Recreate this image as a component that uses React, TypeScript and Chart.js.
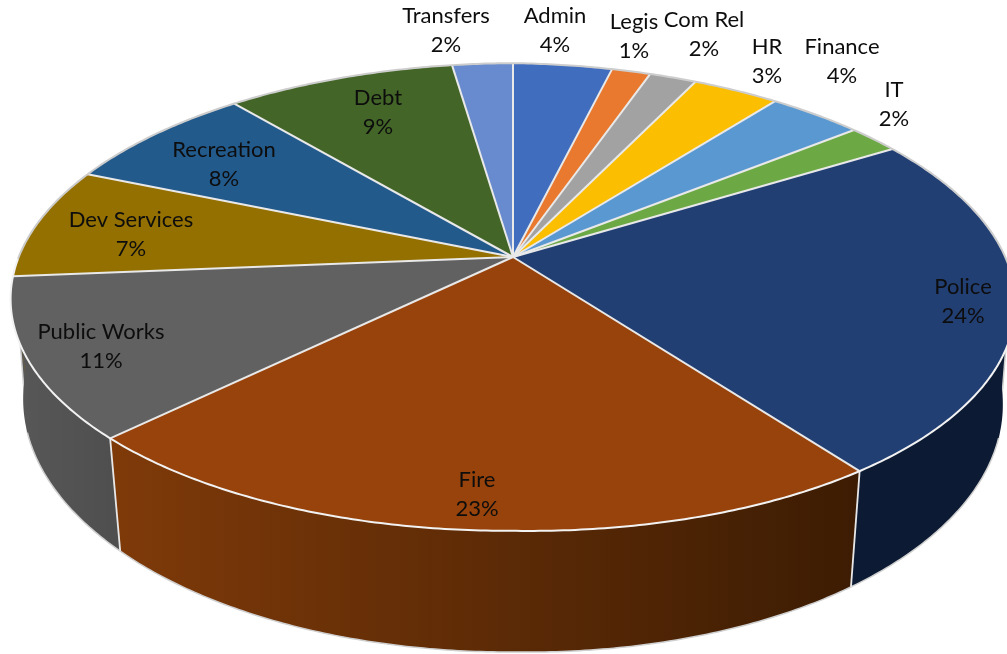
import React, { useEffect, useRef } from "react";
import { Chart, registerables } from "chart.js";

Chart.register(...registerables);

const categories = ["Admin", "Legis", "Com Rel", "HR", "Finance", "IT", "Police", "Fire", "Public Works", "Dev Services", "Recreation", "Debt", "Transfers"];
const shares = [3.75, 1.47, 1.78, 3.28, 3.58, 1.96, 23.84, 23.06, 11.08, 7.7, 7.5, 8.7, 2.3];
const shareLabels = ["4%", "1%", "2%", "3%", "4%", "2%", "24%", "23%", "11%", "7%", "8%", "9%", "2%"];
const topColors = ["#406DBD", "#E9792E", "#A2A2A2", "#FBBE00", "#5A98D2", "#6CA945", "#223F73", "#98430B", "#616161", "#947000", "#235A8C", "#436628", "#678BCE"];
const sideStops: Record<string, string[]> = {
  "Public Works": ["#585858", "#4f4f4f"],
  Fire: ["#7f3a09", "#3c1c03"],
  Police: ["#0c1b33", "#0c1b33"],
};
const labelCentres = [[555, 16], [634, 22], [704, 20], [767, 47], [842, 47], [894, 90], [963, 287], [477, 480], [101, 332], [131, 220], [224, 150], [378, 98], [446, 16]];

const CX = 513, CY = 257, RX = 495, SY = 227, K = 0.171;

function topPoint(a: number): [number, number] {
  const X = Math.cos(a), Y = Math.sin(a);
  const w = 1 - K * Y;
  const dx = (RX * X) / w;
  const tilt = dx > 0 ? dx * 0.014 : -dx * 0.004;
  return [CX + dx, CY + (SY * Y) / w + tilt];
}
function basePoint(a: number): [number, number] {
  const [x, y] = topPoint(a);
  return [CX + (x - CX) * 0.975, y + 113 + 0.09 * (y - 440)];
}

function trace(ctx: CanvasRenderingContext2D, s: number, e: number, fn: (a: number) => [number, number], move: boolean) {
  const n = Math.max(4, Math.ceil(Math.abs(e - s) / 0.01));
  for (let i = 0; i <= n; i++) {
    const [x, y] = fn(s + ((e - s) * i) / n);
    if (i === 0 && move) ctx.moveTo(x, y);
    else ctx.lineTo(x, y);
  }
}

const pie3d = {
  id: "pie3d",
  beforeDatasetsDraw(chart: any) {
    const ctx: CanvasRenderingContext2D = chart.ctx;
    const arcs: any[] = chart.getDatasetMeta(0).data;
    const order = arcs.map((_, i) => i).sort((p, q) => {
      const m = (i: number) => Math.sin((arcs[i].startAngle + arcs[i].endAngle) / 2);
      return m(p) - m(q);
    });
    ctx.save();
    ctx.lineJoin = "round";
    // side silhouettes, from the widest part of the top rim to the base
    const T0 = 0.05, T1 = 0.3, T2 = 0.5;
    [
      { name: "Police", a: [T0, T1, T2] },
      { name: "Public Works", a: [Math.PI - T0, Math.PI - T1, Math.PI - T2] },
    ].forEach(({ name, a }) => {
      ctx.beginPath();
      ctx.moveTo(...topPoint(a[0]));
      ctx.lineTo(...basePoint(a[1]));
      ctx.lineTo(...topPoint(a[2]));
      ctx.closePath();
      ctx.fillStyle = sideStops[name][0];
      ctx.fill();
      ctx.strokeStyle = "#cfcfcf";
      ctx.lineWidth = 1.5;
      ctx.beginPath();
      ctx.moveTo(...topPoint(a[0]));
      ctx.lineTo(...basePoint(a[1]));
      ctx.stroke();
    });
    // walls
    for (const i of order) {
      const { startAngle: s, endAngle: e } = arcs[i];
      ctx.beginPath();
      trace(ctx, s, e, topPoint, true);
      trace(ctx, e, s, basePoint, false);
      ctx.closePath();
      const stops = sideStops[categories[i]] || [topColors[i], topColors[i]];
      const x0 = Math.min(topPoint(s)[0], topPoint(e)[0]);
      const x1 = Math.max(topPoint(s)[0], topPoint(e)[0]);
      const g = ctx.createLinearGradient(x0, 0, x1, 0);
      g.addColorStop(0, stops[0]);
      g.addColorStop(1, stops[1]);
      ctx.fillStyle = g;
      ctx.fill();
    }
    // outer base edge
    ctx.strokeStyle = "#cfcfcf";
    ctx.lineWidth = 1.5;
    ctx.beginPath();
    trace(ctx, T1, Math.PI - T1, basePoint, true);
    ctx.stroke();
    // wall seams
    ctx.strokeStyle = "#e8e8e8";
    ctx.lineWidth = 1.8;
    for (const a of arcs) {
      const p = a.startAngle;
      if (Math.sin(p) > 0.6) {
        const [x, y] = topPoint(p), [bx, by] = basePoint(p);
        ctx.beginPath();
        ctx.moveTo(x, y);
        ctx.lineTo(bx, by);
        ctx.stroke();
      }
    }
    // top faces
    arcs.forEach((a, i) => {
      ctx.beginPath();
      ctx.moveTo(CX, CY);
      trace(ctx, a.startAngle, a.endAngle, topPoint, false);
      ctx.closePath();
      ctx.fillStyle = topColors[i];
      ctx.fill();
    });
    ctx.strokeStyle = "#e9e9e9";
    ctx.lineWidth = 2;
    arcs.forEach((a) => {
      ctx.beginPath();
      ctx.moveTo(CX, CY);
      const [x, y] = topPoint(a.startAngle);
      ctx.lineTo(x, y);
      ctx.stroke();
    });
    ctx.strokeStyle = "#f2f2f2";
    ctx.beginPath();
    trace(ctx, 0, Math.PI, topPoint, true);
    ctx.stroke();
    ctx.strokeStyle = "#cdcdcd";
    ctx.beginPath();
    trace(ctx, Math.PI, Math.PI * 2, topPoint, true);
    ctx.stroke();
    ctx.restore();
    return false;
  },
  afterDraw(chart: any) {
    const ctx: CanvasRenderingContext2D = chart.ctx;
    ctx.save();
    ctx.font = "22px Lato";
    ctx.fillStyle = "#0d0d0d";
    ctx.textAlign = "center";
    ctx.textBaseline = "middle";
    categories.forEach((c, i) => {
      const [x, y] = labelCentres[i];
      ctx.fillText(c, x, y);
      ctx.fillText(shareLabels[i], x, y + 29);
    });
    ctx.restore();
  },
};

export default function App() {
  const ref = useRef<HTMLCanvasElement>(null);
  useEffect(() => {
    const chart = new Chart(ref.current!, {
      type: "pie",
      data: { labels: categories, datasets: [{ data: shares, backgroundColor: topColors }] },
      options: {
        animation: false,
        responsive: false,
        devicePixelRatio: 1,
        plugins: { legend: { display: false }, tooltip: { enabled: false } },
      },
      plugins: [pie3d],
    } as any);
    return () => chart.destroy();
  }, []);
  return (
    <div style={{ position: "fixed", left: 0, top: 0, width: 1007, height: 654, background: "#fff" }}>
      <canvas ref={ref} width={1007} height={654} style={{ display: "block" }} />
    </div>
  );
}
